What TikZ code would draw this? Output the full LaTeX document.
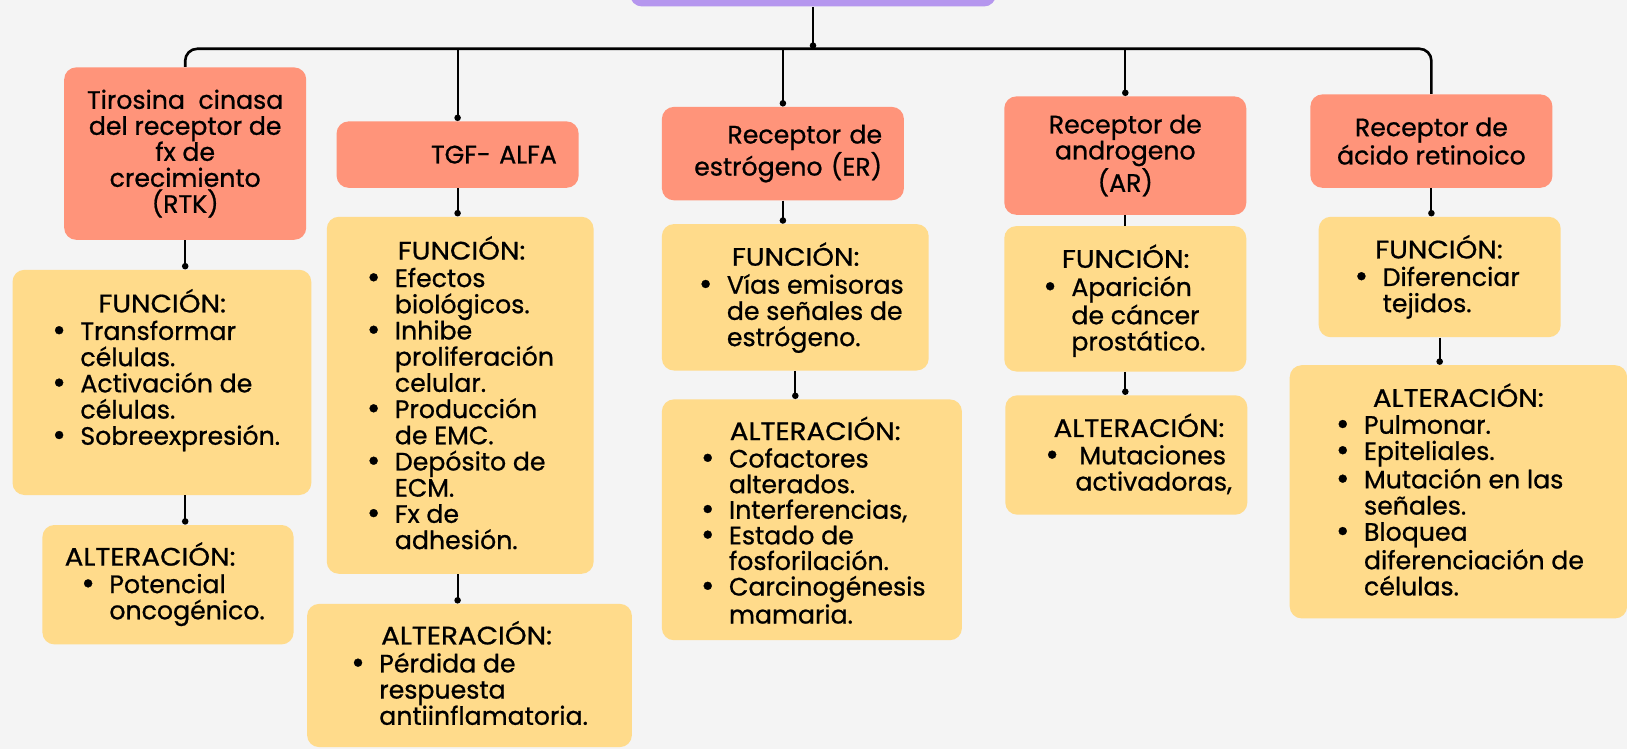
\documentclass[tikz,border=0pt]{standalone}
\usepackage{fontspec}
\setmainfont{Poppins}[FakeBold=0.8]
\usepackage{tikz}
\usetikzlibrary{arrows.meta}

\definecolor{fondo}{HTML}{F4F4F4}
\definecolor{salmon}{HTML}{FF947A}
\definecolor{amarillo}{HTML}{FFDB8B}
\definecolor{lila}{HTML}{B596EE}

\newcommand{\bul}{\makebox[14pt][l]{\raisebox{-0.6pt}{\scalebox{1.3}{\textbullet}}}}
\newcommand{\sang}{\hspace*{14pt}}
\newcommand{\encab}[1]{\scalebox{1.1}[1]{#1}}

\begin{document}
\begin{tikzpicture}[x=0.5pt, y=-0.5pt,
    receptor/.style={fill=salmon, rounded corners=6pt, minimum width=121pt, align=center, inner sep=0pt, font=\fontsize{12.6}{13}\selectfont},
    derecha/.style={align=right, text width=99.2pt, inner xsep=10.9pt},
    caja/.style={fill=amarillo, rounded corners=6pt, inner sep=0pt},
    texto/.style={anchor=base west, align=left, inner sep=0pt, font=\fontsize{12.6}{13.1}\selectfont},
    lista/.style={texto, anchor=north west, execute at begin node=\strut},
    linea/.style={line width=1pt, -{Circle[length=3.2pt]}},
    ]
        \useasboundingbox (0,0) rectangle (1627,749);
        \fill[fondo] (0,0) rectangle (1627,749);

        \node[fill=lila, rounded corners=6pt, minimum width=183pt, minimum height=25pt] (titulo) at (813,-18.5) {};
        \coordinate (barra) at (813,48.8);

        % receptores
        \node[receptor, minimum height=86.2pt] (rtk) at (185.2,153.6) {Tirosina~~cinasa\\del receptor de\\fx de\\crecimiento\\(RTK)};
        \node[receptor, derecha, minimum height=33.2pt] (tgf) at (457.6,154.6) {TGF- ALFA};
        \node[receptor, derecha, minimum height=46.7pt] (er) at (782.9,153.6) {Receptor de\\estrógeno (ER)};
        \node[receptor, minimum height=59.2pt] (ar) at (1125.3,155.6) {Receptor de\\androgeno\\(AR)};
        \node[receptor, minimum height=46.7pt] (ret) at (1431.4,141.1) {Receptor de\\ácido retinoico};

        % cajas de funcion y alteracion
        \node[caja, minimum width=149.4pt, minimum height=112.6pt] (rtkfun) at (161.9,382.4) {};
        \node[caja, minimum width=125.6pt, minimum height=59.7pt] (rtkalt) at (168,584.7) {};
        \node[caja, minimum width=133.4pt, minimum height=178.5pt] (tgffun) at (460.2,395.3) {};
        \node[caja, minimum width=162.4pt, minimum height=71.6pt] (tgfalt) at (469.5,675.5) {};
        \node[caja, minimum width=133.4pt, minimum height=73.2pt] (erfun) at (795.3,297.3) {};
        \node[caja, minimum width=150pt, minimum height=120.4pt] (eralt) at (811.9,519.8) {};
        \node[caja, minimum width=121pt, minimum height=72.7pt] (arfun) at (1125.3,298.8) {};
        \node[caja, minimum width=121pt, minimum height=59.7pt] (aralt) at (1126.3,455) {};
        \node[caja, minimum width=121pt, minimum height=60.2pt] (retfun) at (1439.7,277) {};
        \node[caja, minimum width=168.7pt, minimum height=126.6pt] (retalt) at (1458.4,491.8) {};

        % textos
        \node[texto] (rtkfunT) at (98,312.4) {\encab{FUNCIÓN:}};
        \node[lista] (rtkfunL) at (52,320.3) {\bul Transformar\\\sang células.\\\bul Activación de\\\sang células.\\\bul Sobreexpresión.};
        \node[texto] (rtkaltT) at (64.3,565.6) {\encab{ALTERACIÓN:}};
        \node[lista] (rtkaltL) at (81,573.5) {\bul Potencial\\\sang oncogénico.};

        \node[texto] (tgffunT) at (397.4,259.5) {\encab{FUNCIÓN:}};
        \node[lista] (tgffunL) at (366.5,267.4) {\bul Efectos\\\sang biológicos.\\\bul Inhibe\\\sang proliferación\\\sang celular.\\\bul Producción\\\sang de EMC.\\\bul Depósito de\\\sang ECM.\\\bul Fx de\\\sang adhesión.};
        \node[texto] (tgfaltT) at (380.8,644.4) {\encab{ALTERACIÓN:}};
        \node[lista] (tgfaltL) at (350.9,652.3) {\bul Pérdida de\\\sang respuesta\\\sang antiinflamatoria.};

        \node[texto] (erfunT) at (731.5,265.7) {\encab{FUNCIÓN:}};
        \node[lista] (erfunL) at (698.5,273.6) {\bul Vías emisoras\\\sang de señales de\\\sang estrógeno.};
        \node[texto] (eraltT) at (729.4,440) {\encab{ALTERACIÓN:}};
        \node[lista, font=\fontsize{12.6}{12.8}\selectfont] (eraltL) at (700.6,447.9) {\bul Cofactores\\\sang alterados.\\\bul Interferencias,\\\bul Estado de\\\sang fosforilación.\\\bul Carcinogénesis\\\sang mamaria.};

        \node[texto] (arfunT) at (1061.5,267.8) {\encab{FUNCIÓN:}};
        \node[lista] (arfunL) at (1043,275.7) {\bul Aparición\\\sang de cáncer\\\sang prostático.};
        \node[texto] (araltT) at (1053.2,436.9) {\encab{ALTERACIÓN:}};
        \node[lista] (araltL) at (1045,444.8) {\bul\hspace*{3pt}Mutaciones\\\sang\hspace*{1pt}activadoras,};

        \node[texto] (retfunT) at (1374.8,258.4) {\encab{FUNCIÓN:}};
        \node[lista] (retfunL) at (1354.3,266.3) {\bul Diferenciar\\\sang tejidos.};
        \node[texto] (retaltT) at (1372.5,406.8) {\encab{ALTERACIÓN:}};
        \node[lista] (retaltL) at (1335.6,414.7) {\bul Pulmonar.\\\bul Epiteliales.\\\bul Mutación en las\\\sang señales.\\\bul Bloquea\\\sang diferenciación de\\\sang células.};

        % conectores
        \draw[linea] (titulo.south) -- (barra);
        \draw[line width=1.3pt, rounded corners=6pt] (rtk.north) |- (barra) -| (ret.north);
        \draw[linea] (tgf.north |- barra) -- (tgf.north);
        \draw[linea] (er.north |- barra) -- (er.north);
        \draw[linea] (ar.north |- barra) -- (ar.north);

        \draw[linea] (rtk.south) -- (rtk.south |- rtkfun.north);
        \draw[linea] (rtkfun.south -| rtk.south) -- (rtk.south |- rtkalt.north);
        \draw[linea] (tgf.south) -- (tgf.south |- tgffun.north);
        \draw[linea] (tgffun.south -| tgf.south) -- (tgf.south |- tgfalt.north);
        \draw[linea] (er.south) -- (er.south |- erfun.north);
        \draw[linea] (erfun.south) -- (erfun.south |- eralt.north);
        \draw[line width=1pt] (ar.south) -- (ar.south |- arfun.north);
        \draw[linea] (arfun.south) -- (arfun.south |- aralt.north);
        \draw[linea] (ret.south) -- (ret.south |- retfun.north);
        \draw[linea] (retfun.south) -- (retfun.south |- retalt.north);
    \end{tikzpicture}
\end{document}
